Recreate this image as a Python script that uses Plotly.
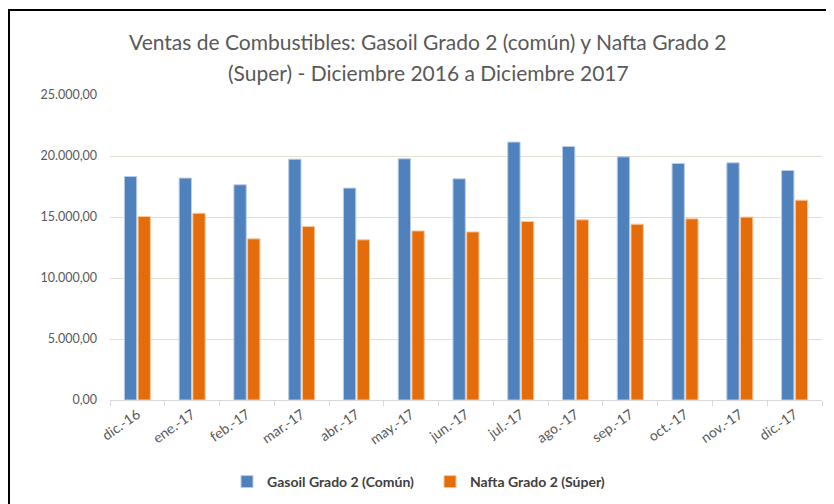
import plotly.graph_objects as go

months = ["dic.-16", "ene.-17", "feb.-17", "mar.-17", "abr.-17", "may.-17", "jun.-17",
          "jul.-17", "ago.-17", "sep.-17", "oct.-17", "nov.-17", "dic.-17"]
gasoil = [18320, 18190, 17640, 19740, 17370, 19770, 18130, 21140, 20780, 19930, 19390, 19440, 18810]
nafta = [15040, 15310, 13210, 14220, 13130, 13860, 13780, 14630, 14770, 14410, 14850, 14990, 16380]

title_lines = ["Ventas de Combustibles: Gasoil Grado 2 (común) y Nafta Grado 2",
               "(Super) - Diciembre 2016 a Diciembre 2017"]

FONT = "Lato, sans-serif"
GRAY = "#595959"

# The page body has an 8px margin, so figure coords = screen coords - 8
OFF = 8
W, H = 834 - OFF, 504 - OFF
L = 110 - OFF
R = W - (822 - OFF)
T = 95 - OFF
B = H - (400 - OFF)
pw, ph = W - L - R, H - T - B

def px(x):  # screen x -> paper
    return (x - OFF - L) / pw

def py(y):  # screen y -> paper
    return (H - B - (y - OFF)) / ph

fig = go.Figure()
fig.add_trace(go.Bar(x=months, y=gasoil, name="Gasoil Grado 2 (Común)",
                     marker=dict(color="#4f81bd", line=dict(color="#b9cde5", width=1))))
fig.add_trace(go.Bar(x=months, y=nafta, name="Nafta Grado 2 (Súper)",
                     marker=dict(color="#e46c0a", line=dict(color="#fbc89c", width=1))))

fig.update_layout(
    width=W, height=H,
    margin=dict(l=L, r=R, t=T, b=B, autoexpand=False),
    paper_bgcolor="white", plot_bgcolor="white",
    separators=",.",
    barmode="group", bargap=0.5, bargroupgap=0.1,
    font=dict(family=FONT, color=GRAY, size=13),
    showlegend=True,
    legend=dict(orientation="h", x=px(430), xanchor="center",
                y=py(482), yanchor="middle",
                font=dict(family=FONT, size=14, color="#404040", weight="bold"),
                itemwidth=30, entrywidth=158, tracegroupgap=0),
    xaxis=dict(showline=True, linecolor="#d9d9d9", ticks="outside", tickcolor="#d9d9d9",
               tickson="boundaries", ticklen=5, tickangle=-35, automargin=False,
               tickfont=dict(family=FONT, size=14, color=GRAY)),
    yaxis=dict(range=[0, 25000], dtick=5000, tickformat=",.2f", showgrid=True,
               gridcolor="#e3dfcf", gridwidth=1, zeroline=False, showline=False,
               automargin=False, ticklabelstandoff=12,
               tickfont=dict(family=FONT, size=12.5, color=GRAY)),
    annotations=[
        dict(text=title_lines[0], xref="paper", yref="paper", x=px(427), y=py(42),
             xanchor="center", yanchor="middle", showarrow=False,
             font=dict(family=FONT, size=21, color=GRAY)),
        dict(text=title_lines[1], xref="paper", yref="paper", x=px(428), y=py(72),
             xanchor="center", yanchor="middle", showarrow=False,
             font=dict(family=FONT, size=21, color=GRAY)),
    ],
    shapes=[
        dict(type="line", xref="paper", yref="paper", x0=px(8), x1=px(850), y0=py(10), y1=py(10),
             line=dict(color="black", width=2)),
        dict(type="line", xref="paper", yref="paper", x0=px(9), x1=px(9), y0=py(9), y1=py(520),
             line=dict(color="black", width=2)),
    ],
)

fig.write_html("out.html")
